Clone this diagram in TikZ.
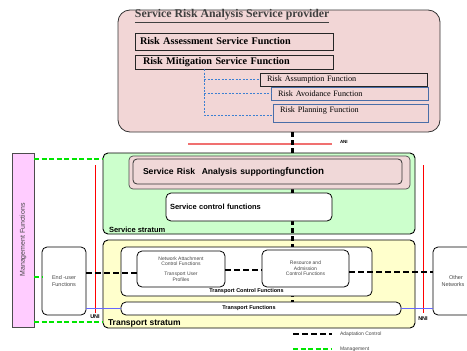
\documentclass[tikz,border=0pt]{standalone}
\usepackage{fontspec}
\setmainfont{Liberation Serif}
\setsansfont{Liberation Sans}
\usetikzlibrary{positioning}
\definecolor{provpink}{RGB}{242,214,214}
\definecolor{supppink}{RGB}{240,216,216}
\definecolor{mgmtpink}{RGB}{255,204,255}
\definecolor{strgreen}{RGB}{204,255,204}
\definecolor{stryellow}{RGB}{255,255,204}
\definecolor{boxblue}{RGB}{74,110,168}
\definecolor{treeblue}{RGB}{60,128,210}
\definecolor{anired}{RGB}{240,112,112}
\definecolor{linkblue}{RGB}{102,102,255}
\definecolor{mgmtgreen}{RGB}{0,230,0}
\definecolor{smallgray}{RGB}{70,70,70}
\tikzset{
  every node/.style={inner sep=0pt, outer sep=0pt},
  provbox/.style={draw=black!80, line width=0.8pt, fill=provpink, rounded corners=12pt},
  riskbox/.style={draw=black!85, line width=0.8pt, align=left, inner xsep=5pt,
    font=\bfseries\fontsize{10.2}{11}\selectfont},
  subbox/.style={draw=black!85, line width=0.7pt, fill=provpink, align=left, inner xsep=7pt,
    font=\fontsize{8.2}{9}\selectfont},
  stratum/.style={draw=black, line width=0.9pt, rounded corners=5pt},
  whitebox/.style={draw=black, line width=0.8pt, fill=white, rounded corners=5pt},
  tinytext/.style={font=\sffamily\fontsize{5}{5.6}\selectfont, text=smallgray, align=center},
  boldlabel/.style={font=\sffamily\bfseries\fontsize{7.5}{9}\selectfont},
  adapt/.style={draw=black, line width=1.8pt, dash pattern=on 6pt off 3pt},
  adaptthick/.style={draw=black, line width=3pt, dash pattern=on 5pt off 3pt},
  mgmtline/.style={draw=mgmtgreen, line width=2pt, dash pattern=on 5pt off 2.5pt},
  treeline/.style={draw=treeblue, line width=0.6pt, dash pattern=on 2pt off 1.5pt},
  refline/.style={draw=red, line width=0.6pt},
  linkline/.style={draw=linkblue, line width=0.8pt},
}

\begin{document}
\begin{tikzpicture}[x=1pt, y=-1pt]
  \useasboundingbox (0,0) rectangle (467,351);
  \clip (0,0) rectangle (467,351);

  % service provider
  \node[provbox, minimum width=322pt, minimum height=122pt] (prov) at (279,71) {};
  \node[font=\bfseries\fontsize{11.8}{13}\selectfont, text=black!75, anchor=west] (provtitle) at (135,16)
    {\underline{Service Risk Analysis Service provider}};
  \node[riskbox, text width=188pt, minimum height=17pt] (assess) at (234,41.5) {Risk Assessment Service Function};
  \node[riskbox, minimum height=14pt, inner xsep=8pt, text width=182pt] (mitig) at (234,62) {Risk Mitigation Service Function};
  \node[subbox, text width=153pt, minimum height=13pt] (assume) at (343.5,79.5) {Risk Assumption Function};
  \node[subbox, draw=boxblue, text width=143pt, minimum height=13pt] (avoid) at (349.5,93.5) {Risk Avoidance Function};
  \node[subbox, draw=boxblue, text width=141pt, minimum height=18pt, text depth=6pt] (plan) at (350.5,113) {Risk Planning Function};

  \coordinate (treetop) at (204,69);
  \draw[treeline] (treetop) |- (assume.west);
  \draw[treeline] (treetop) |- (avoid.west);
  \draw[treeline] (treetop) |- (plan.west |- 0,115);

  % strata and management
  \node[stratum, fill=strgreen, minimum width=312pt, minimum height=81pt] (sstrat) at (259,193.5) {};
  \node[stratum, fill=stryellow, minimum width=312pt, minimum height=88pt] (tstrat) at (259,284) {};
  \node[boldlabel, anchor=south west] (sstratlabel) at (109,233) {Service stratum};
  \node[boldlabel, font=\sffamily\bfseries\fontsize{8.5}{10}\selectfont, anchor=south west] (tstratlabel) at (108,327) {Transport stratum};
  \node[draw=black!70, line width=0.8pt, fill=mgmtpink, minimum width=22pt, minimum height=174pt] (mgmt) at (23,240) {};
  \node[rotate=90, font=\sffamily\fontsize{7}{8}\selectfont, text=smallgray] (mgmttext) at (mgmt) {Management Functions};

  % ANI / UNI / NNI reference lines
  \coordinate (aniL) at (188,144);
  \coordinate (aniR) at (332,144);
  \draw[draw=anired, line width=1.2pt] (aniL) -- (aniR);
  \node[font=\sffamily\bfseries\fontsize{4.5}{5}\selectfont, anchor=west] (anilabel) at (340,142) {ANI};
  \coordinate (uniT) at (95,165);
  \coordinate (uniB) at (95,313);
  \coordinate (nniT) at (423,165);
  \coordinate (nniB) at (423,313);
  \draw[refline] (uniT) -- (uniB);
  \draw[refline] (nniT) -- (nniB);
  \node[font=\sffamily\bfseries\fontsize{5.5}{6}\selectfont, below=1.5pt of uniB] (unilabel) {UNI};
  \node[font=\sffamily\bfseries\fontsize{5.5}{6}\selectfont, below=4pt of nniB] (nnilabel) {NNI};

  % vertical adaptation line
  \coordinate (tftop) at (292,302);
  \draw[adaptthick] (prov.south -| tftop) -- (tftop);

  % service stratum boxes
  \node[draw=black!70, line width=0.7pt, fill=supppink, rounded corners=4pt,
    minimum width=281pt, minimum height=33pt] (suppouter) at (269.5,172.5) {};
  \node[draw=black!80, line width=0.8pt, fill=supppink, rounded corners=4pt,
    minimum height=25pt, text width=249pt, inner xsep=10pt, align=left,
    font=\sffamily\bfseries] (supp) at (267.5,171.5)
    {{\fontsize{8.6}{9}\selectfont Service Risk\ \ Analysis supporting}{\fontsize{9.8}{10}\selectfont function}};
  \node[whitebox, minimum height=28pt, text width=158pt, inner xsep=4pt, align=left, boldlabel] (sctrl) at (249,207)
    {Service control functions};

  % transport stratum boxes
  \node[whitebox, minimum width=251pt, minimum height=49pt] (tcf) at (246.5,271.5) {};
  \node[boldlabel, font=\sffamily\bfseries\fontsize{5.5}{6}\selectfont, above=2pt of tcf.south] (tcflabel) {Transport Control Functions};
  \node[whitebox, tinytext, minimum width=88pt, minimum height=36pt] (nacf) at (181,269)
    {Network Attachment\\Control Functions\\[4pt]Transport User\\Profiles};
  \node[whitebox, tinytext, minimum width=87pt, minimum height=37pt] (racf) at (305.5,268.5)
    {Resource and\\Admission\\Control Functions};
  \node[whitebox, minimum width=280pt, minimum height=13pt, boldlabel, font=\sffamily\bfseries\fontsize{5.5}{6}\selectfont] (tf) at (261,308.5)
    {\hspace*{-24pt}Transport Functions};

  % end-user and other networks
  \node[whitebox, tinytext, font=\sffamily\fontsize{5.5}{6.2}\selectfont, minimum width=44pt, minimum height=68pt] (eu) at (64,281)
    {End -user\\Functions};
  \node[whitebox, tinytext, font=\sffamily\fontsize{5.5}{6.2}\selectfont, minimum width=46pt, minimum height=68pt,
    text width=40pt] (onet) at (456,281) {Other\\Networks\hspace*{6pt}};

  % connectors
  \draw[adapt] (eu.east |- 0,273) -- (nacf.west |- 0,273);
  \draw[adapt] (nacf.east |- 0,270) -- (racf.west |- 0,270);
  \draw[adapt] (racf.east |- 0,272) -- (onet.west |- 0,272);
  \draw[linkline] (eu.east |- tf.west) -- (tf.west);
  \draw[linkline] (tf.east) -- (onet.west |- tf.east);
  \draw[mgmtline] (mgmt.east |- 0,159) -- (sstrat.west |- 0,159);
  \draw[mgmtline] (mgmt.east |- 0,277) -- (eu.west |- 0,277);
  \draw[mgmtline] (mgmt.east |- 0,322) -- (tstrat.west |- 0,322);

  % legend
  \coordinate (lgadaptL) at (293,334);
  \coordinate (lgadaptR) at (332,334);
  \coordinate (lgmgmtL) at (293,349);
  \coordinate (lgmgmtR) at (332,349);
  \draw[adapt] (lgadaptL) -- (lgadaptR);
  \draw[mgmtline] (lgmgmtL) -- (lgmgmtR);
  \node[tinytext, right=8pt of lgadaptR] (lgadapttext) {Adaptation Control};
  \node[tinytext, right=8pt of lgmgmtR] (lgmgmttext) {Management};
\end{tikzpicture}
\end{document}
